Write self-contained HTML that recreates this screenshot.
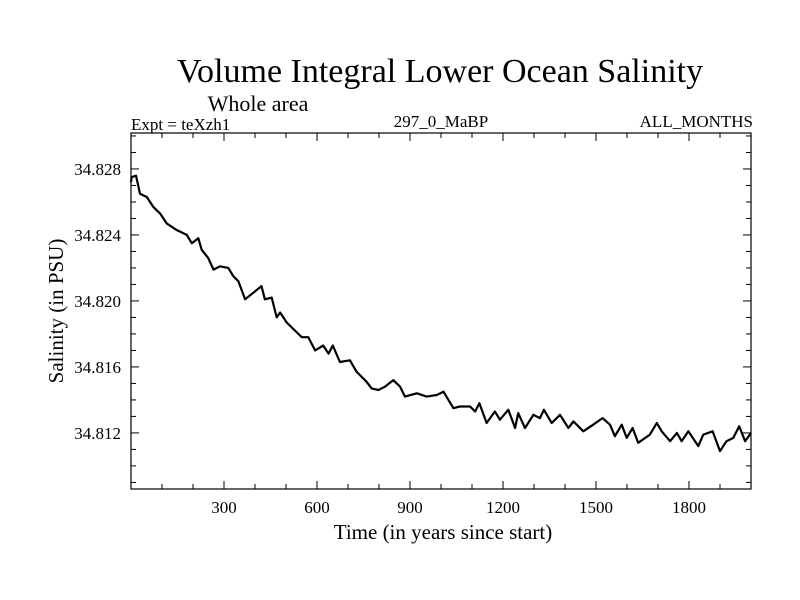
<!DOCTYPE html>
<html><head><meta charset="utf-8"><style>
html,body{margin:0;padding:0;background:#fff;}
svg{display:block;font-family:"Liberation Serif",serif;}
</style></head><body>
<svg id="chart" width="800" height="600" viewBox="0 0 800 600">
<text x="440" y="82" font-size="34" text-anchor="middle">Volume Integral Lower Ocean Salinity</text>
<text x="258" y="111" font-size="22" text-anchor="middle">Whole area</text>
<text x="131" y="130" font-size="17">Expt = teXzh1</text>
<text x="441" y="127" font-size="17" text-anchor="middle">297_0_MaBP</text>
<text x="753" y="127" font-size="17" text-anchor="end">ALL_MONTHS</text>
<text transform="translate(63,311) rotate(-90)" font-size="21" text-anchor="middle">Salinity (in PSU)</text>
<text x="443" y="539" font-size="21" text-anchor="middle">Time (in years since start)</text>
<g id="axes"></g>
<rect x="131" y="133" width="620" height="356" fill="none" stroke="#000" stroke-width="1.2"/>
<path id="line" fill="none" stroke="#000" stroke-width="2.2" stroke-linejoin="round"/>
</svg>
<script>
const years = [0,2,16,29,51,72,94,115,147,180,196,217,228,249,266,287,314,330,346,368,395,421,432,454,470,481,502,529,551,572,594,620,637,651,674,706,728,760,776,798,819,846,868,884,922,954,986,1008,1040,1061,1094,1110,1124,1147,1174,1190,1217,1239,1249,1271,1298,1319,1332,1357,1384,1411,1427,1459,1491,1521,1545,1561,1583,1599,1618,1636,1674,1696,1712,1739,1761,1776,1798,1830,1846,1876,1900,1921,1943,1962,1981,2000];
const salinity = [34.8272,34.8275,34.8276,34.8265,34.8263,34.8257,34.8253,34.8247,34.8243,34.8240,34.8235,34.8238,34.8231,34.8226,34.8219,34.8221,34.8220,34.8215,34.8212,34.8201,34.8205,34.8209,34.8201,34.8202,34.8190,34.8193,34.8187,34.8182,34.8178,34.8178,34.8170,34.8173,34.8168,34.8173,34.8163,34.8164,34.8157,34.8151,34.8147,34.8146,34.8148,34.8152,34.8148,34.8142,34.8144,34.8142,34.8143,34.8145,34.8135,34.8136,34.8136,34.8133,34.8138,34.8126,34.8133,34.8128,34.8134,34.8123,34.8132,34.8123,34.8131,34.8129,34.8134,34.8126,34.8131,34.8123,34.8127,34.8121,34.8125,34.8129,34.8125,34.8118,34.8125,34.8117,34.8123,34.8114,34.8119,34.8126,34.8121,34.8115,34.8120,34.8115,34.8121,34.8112,34.8119,34.8121,34.8109,34.8115,34.8117,34.8124,34.8115,34.8120];
const xTickLabels = [300,600,900,1200,1500,1800];
const yTickLabels = ["34.812","34.816","34.820","34.824","34.828"];
const xDomain = [0,2000];
const yDomain = [34.80860,34.83018];

const L=131,R=751,T=133,B=489;
function xs(v){return L+(v-xDomain[0])/(xDomain[1]-xDomain[0])*(R-L);}
function ys(v){return B-(v-yDomain[0])/(yDomain[1]-yDomain[0])*(B-T);}
const NS="http://www.w3.org/2000/svg";
const g=document.getElementById('axes');
function line(x1,y1,x2,y2,name){
  const l=document.createElementNS(NS,'line');
  l.setAttribute('x1',x1);l.setAttribute('y1',y1);l.setAttribute('x2',x2);l.setAttribute('y2',y2);
  l.setAttribute('stroke','#000');l.setAttribute('stroke-width','1');
  
  
  g.appendChild(l);
}
function text(x,y,s,anchor,name){
  const t=document.createElementNS(NS,'text');
  t.setAttribute('x',x);t.setAttribute('y',y);t.setAttribute('font-size','17');t.setAttribute('text-anchor',anchor);
  t.textContent=s;
  
  
  g.appendChild(t);
}
for(let v=100;v<2000;v+=100){
  const major=v%300===0, len=major?8:5, x=xs(v);
  line(x,B,x,B-len,'x-tick');
  line(x,T,x,T+len,'x-tick-top');
}
xTickLabels.forEach(v=>text(xs(v),B+24,String(v),'middle','x-tick-label'));
for(let k=Math.ceil(yDomain[0]*1000);k<=Math.floor(yDomain[1]*1000);k++){
  const v=k/1000, major=(k%4===0), len=major?8:5, y=ys(v);
  line(L,y,L+len,y,'y-tick');
  line(R,y,R-len,y,'y-tick-right');
}
yTickLabels.forEach(s=>text(L-10,ys(parseFloat(s))+6,s,'end','y-tick-label'));
let d='';
years.forEach((yr,i)=>{d+=(i?'L':'M')+xs(yr).toFixed(1)+','+ys(salinity[i]).toFixed(1);});
document.getElementById('line').setAttribute('d',d);
</script>
</body></html>
